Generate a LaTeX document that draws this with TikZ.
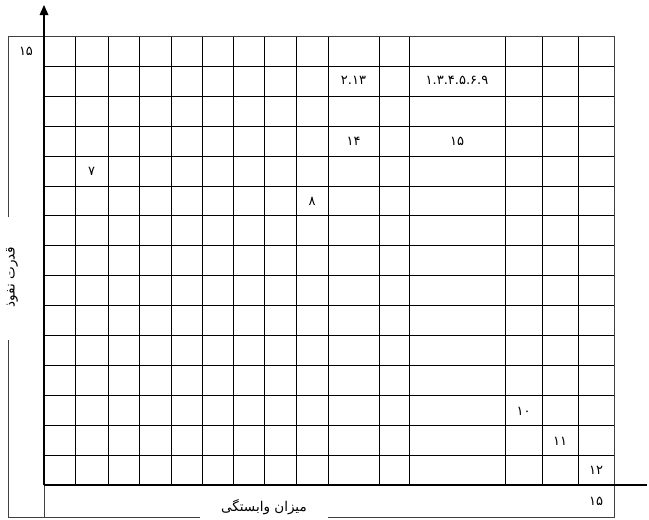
\documentclass[tikz,border=0pt]{standalone}
\usepackage{fontspec}
\newfontfamily\fa[Script=Arabic]{DejaVu Sans}
\TeXXeTstate=1
\tikzset{
  gridline/.style={line width=0.9pt, black},
  frameline/.style={line width=0.9pt, black!75},
  axisline/.style={line width=2.2pt, black},
  lbl/.style={font=\fa\fontsize{13}{15}\selectfont, inner sep=0pt},
  axlbl/.style={font=\fa\fontsize{13.5}{15}\selectfont, inner sep=0pt},
}
\begin{document}
\begin{tikzpicture}[x=1pt,y=-1pt]
\useasboundingbox (0,0) rectangle (649,520);
% horizontal grid lines
\foreach \k in {0,...,14} {
  \pgfmathsetmacro{\yy}{36.5+\k*29.9}
  \draw[gridline] (44,\yy) -- (614,\yy);
}
% vertical grid lines
\foreach \xx in {75,108,139,171,202,233,264,296,328,379,409,505,542,578} {
  \draw[gridline] (\xx,36.5) -- (\xx,485);
}
% outer frame
\coordinate (tl) at (8,36.5);
\coordinate (tr) at (614,36.5);
\coordinate (br) at (614,517);
\coordinate (bl) at (8,517);
\draw[frameline] (tl) -- (tr) -- (br) -- (328,517);
\draw[frameline] (200,517) -- (bl) -- (8,340);
\draw[frameline] (8,217) -- (tl);
\draw[frameline] (44,485) -- (44,517);
% axes
\coordinate (o) at (44,485);
\coordinate (ytip) at (44,5);
\coordinate (xend) at (647,485);
\draw[axisline] (o) -- (xend);
\draw[axisline] (o) -- (44,14);
\fill (ytip) -- (48.5,15) -- (39.5,15) -- cycle;
% labels
\node[lbl] (a15) at (26,51) {۱۵};
\node[lbl] (c213) at (353.5,80) {۲.۱۳};
\node[lbl] (c1) at (457,80) {۱.۳.۴.۵.۶.۹};
\node[lbl] (c14) at (353.5,141) {۱۴};
\node[lbl] (c15) at (457,141) {۱۵};
\node[lbl] (c7) at (91.5,171) {۷};
\node[lbl] (c8) at (312,201) {۸};
\node[lbl] (c10) at (523.5,411) {۱۰};
\node[lbl] (c11) at (560,441) {۱۱};
\node[lbl] (c12) at (596,470.5) {۱۲};
\node[lbl] (b15) at (596,501) {۱۵};
\node[axlbl] (xl) at (264,507) {\beginR میزان وابستگی\endR};
\node[axlbl, rotate=90] (yl) at (12,277) {\beginR قدرت نفوذ\endR};
\end{tikzpicture}
\end{document}
